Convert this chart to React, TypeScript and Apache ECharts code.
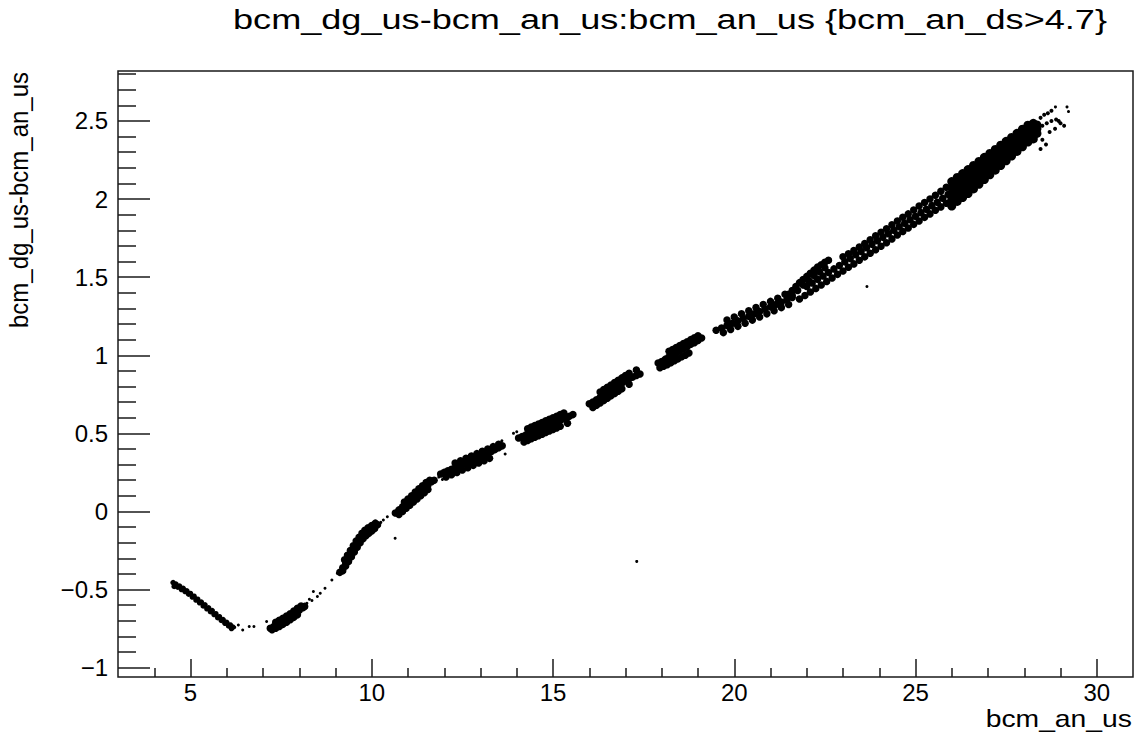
import React, { useEffect, useRef } from "react";
import * as echarts from "echarts";

const titleText = "bcm_dg_us-bcm_an_us:bcm_an_us {bcm_an_ds>4.7}";
const xName = "bcm_an_us";
const yName = "bcm_dg_us-bcm_an_us";

const xMajorTicks = [5, 10, 15, 20, 25, 30];
const xMinorTicks = [4, 6, 7, 8, 9, 11, 12, 13, 14, 16, 17, 18, 19, 21, 22, 23, 24, 26, 27, 28, 29];
const yMajorTicks = [-1, -0.5, 0, 0.5, 1, 1.5, 2, 2.5];
const yMinorTicks = [-0.9, -0.8, -0.7, -0.6, -0.4, -0.3, -0.2, -0.1, 0.1, 0.2, 0.3, 0.4, 0.6, 0.7, 0.8, 0.9, 1.1, 1.2, 1.3, 1.4, 1.6, 1.7, 1.8, 1.9, 2.1, 2.2, 2.3, 2.4, 2.6, 2.7, 2.8];

const clusterA = [
  [4.52, -0.455], [4.6, -0.465], [4.7, -0.478], [4.8, -0.492], [4.9, -0.508], [5.0, -0.525], [5.1, -0.543], [5.2, -0.562], [5.3, -0.58], [5.4, -0.598], [5.5, -0.617], [5.6, -0.635], [5.7, -0.655], [5.8, -0.674], [5.9, -0.692], [6.0, -0.71], [6.1, -0.727], [6.17, -0.74],
  [4.55, -0.48], [4.65, -0.485], [4.75, -0.5], [4.85, -0.513], [4.95, -0.53], [5.05, -0.548], [5.15, -0.567], [5.25, -0.585], [5.35, -0.605], [5.45, -0.623], [5.55, -0.642], [5.65, -0.66], [5.75, -0.68], [5.85, -0.698], [5.95, -0.716], [6.05, -0.733], [6.13, -0.75],
];
const clusterC = [
  [7.2, -0.748], [7.3, -0.737], [7.4, -0.725], [7.5, -0.712], [7.6, -0.698], [7.7, -0.683], [7.8, -0.667], [7.9, -0.65], [8.0, -0.633], [8.1, -0.617], [8.15, -0.608],
  [7.35, -0.71], [7.45, -0.697], [7.55, -0.684], [7.65, -0.67], [7.75, -0.655], [7.85, -0.638], [7.95, -0.62], [8.05, -0.605],
  [7.25, -0.758], [7.35, -0.748], [7.45, -0.736], [7.55, -0.723], [7.65, -0.709], [7.75, -0.694], [7.85, -0.678], [7.95, -0.662],
];
const clusterE = [
  [9.12, -0.39], [9.2, -0.36], [9.28, -0.33], [9.36, -0.3], [9.44, -0.27], [9.52, -0.24], [9.6, -0.21], [9.68, -0.18], [9.76, -0.155], [9.84, -0.135], [9.92, -0.12], [10.0, -0.105], [10.08, -0.095], [10.16, -0.085],
  [9.2, -0.38], [9.28, -0.35], [9.36, -0.32], [9.44, -0.29], [9.52, -0.26], [9.6, -0.23], [9.68, -0.2], [9.76, -0.175], [9.84, -0.155], [9.92, -0.14], [10.0, -0.125], [10.08, -0.11],
  [9.25, -0.31], [9.33, -0.28], [9.41, -0.25], [9.49, -0.22], [9.57, -0.19], [9.65, -0.165], [9.73, -0.14], [9.81, -0.12], [9.9, -0.105], [10.0, -0.09], [10.1, -0.075],
];
const clusterF = [
  [10.65, -0.01], [10.75, 0.01], [10.85, 0.03], [10.95, 0.05], [11.05, 0.07], [11.15, 0.09], [11.25, 0.11], [11.35, 0.13], [11.45, 0.15], [11.55, 0.17], [11.65, 0.19], [11.72, 0.2],
  [10.75, -0.02], [10.85, 0.0], [10.95, 0.02], [11.05, 0.04], [11.15, 0.06], [11.25, 0.08], [11.35, 0.1], [11.45, 0.12], [11.55, 0.14],
  [10.9, 0.06], [11.0, 0.08], [11.1, 0.1], [11.2, 0.125], [11.3, 0.145], [11.4, 0.165], [11.5, 0.185], [11.6, 0.2],
];
const clusterG = [
  [11.9, 0.24], [12.0, 0.25], [12.1, 0.26], [12.2, 0.27], [12.3, 0.28], [12.4, 0.29], [12.5, 0.3], [12.6, 0.31], [12.7, 0.32], [12.8, 0.33], [12.9, 0.34], [13.0, 0.35], [13.1, 0.36], [13.2, 0.372], [13.3, 0.384], [13.4, 0.396], [13.5, 0.408], [13.6, 0.42],
  [12.3, 0.31], [12.45, 0.325], [12.6, 0.34], [12.75, 0.355], [12.9, 0.37], [13.05, 0.385], [13.2, 0.4], [13.35, 0.415], [13.5, 0.43],
  [12.05, 0.22], [12.2, 0.235], [12.35, 0.25], [12.5, 0.265], [12.65, 0.28], [12.8, 0.295], [12.95, 0.31], [13.1, 0.325], [13.25, 0.34],
];
const clusterH = [
  [14.05, 0.47], [14.15, 0.48], [14.25, 0.49], [14.35, 0.5], [14.45, 0.51], [14.55, 0.52], [14.65, 0.53], [14.75, 0.54], [14.85, 0.55], [14.95, 0.56], [15.05, 0.57], [15.15, 0.58], [15.25, 0.59], [15.35, 0.6], [15.45, 0.61], [15.55, 0.62],
  [14.3, 0.53], [14.4, 0.54], [14.5, 0.55], [14.6, 0.56], [14.7, 0.57], [14.8, 0.58], [14.9, 0.59], [15.0, 0.6], [15.1, 0.61], [15.2, 0.62], [15.3, 0.63],
  [14.2, 0.445], [14.3, 0.455], [14.4, 0.465], [14.5, 0.475], [14.6, 0.485], [14.7, 0.495], [14.8, 0.505], [14.9, 0.515], [15.0, 0.525], [15.1, 0.535], [15.2, 0.545], [15.4, 0.565],
];
const clusterI = [
  [16.0, 0.69], [16.1, 0.7], [16.2, 0.715], [16.3, 0.73], [16.4, 0.745], [16.5, 0.76], [16.6, 0.775], [16.7, 0.79], [16.8, 0.805], [16.9, 0.82], [17.0, 0.835], [17.1, 0.85], [17.2, 0.86], [17.3, 0.87], [17.4, 0.88],
  [16.3, 0.765], [16.4, 0.78], [16.5, 0.795], [16.6, 0.81], [16.7, 0.825], [16.8, 0.84], [16.9, 0.855], [17.0, 0.87], [17.1, 0.885], [17.3, 0.905],
  [16.1, 0.665], [16.2, 0.68], [16.3, 0.695], [16.4, 0.71], [16.5, 0.725], [16.6, 0.74], [16.7, 0.755], [16.8, 0.77], [16.9, 0.785], [17.1, 0.815],
];
const clusterJ = [
  [17.9, 0.95], [18.0, 0.96], [18.1, 0.975], [18.2, 0.99], [18.3, 1.0], [18.4, 1.015], [18.5, 1.03], [18.6, 1.04], [18.7, 1.055], [18.8, 1.07], [18.9, 1.08], [19.0, 1.095], [19.1, 1.11],
  [18.2, 1.025], [18.3, 1.037], [18.4, 1.05], [18.5, 1.062], [18.6, 1.075], [18.7, 1.087], [18.8, 1.1], [18.9, 1.112], [19.0, 1.125],
  [17.95, 0.92], [18.05, 0.93], [18.15, 0.94], [18.25, 0.952], [18.35, 0.965], [18.45, 0.977], [18.55, 0.99], [18.65, 1.0], [18.75, 1.015],
];
const clusterK = [
  [19.5, 1.16], [19.65, 1.175], [19.8, 1.19], [19.95, 1.205], [20.1, 1.22], [20.25, 1.235], [20.4, 1.25], [20.55, 1.265], [20.7, 1.28], [20.85, 1.295], [21.0, 1.31], [21.15, 1.325], [21.3, 1.34], [21.45, 1.355], [21.6, 1.37],
  [19.8, 1.225], [20.0, 1.245], [20.2, 1.265], [20.4, 1.285], [20.6, 1.305], [20.8, 1.325], [21.0, 1.345], [21.2, 1.365], [21.4, 1.39],
  [19.7, 1.145], [19.9, 1.165], [20.1, 1.185], [20.3, 1.205], [20.5, 1.225], [20.7, 1.245], [20.9, 1.265], [21.1, 1.285], [21.3, 1.305], [21.5, 1.325],
];
const clusterL = [
  [21.5, 1.39], [21.6, 1.415], [21.7, 1.44], [21.8, 1.465], [21.9, 1.485], [22.0, 1.505], [22.1, 1.525], [22.2, 1.545], [22.3, 1.565], [22.4, 1.58], [22.5, 1.595], [22.6, 1.608],
  [21.6, 1.385], [21.75, 1.415], [21.9, 1.45], [22.05, 1.48], [22.2, 1.51], [22.35, 1.535], [22.5, 1.56],
];
const strandLow = [
  [21.8, 1.36], [21.95, 1.383], [22.1, 1.405], [22.25, 1.428], [22.4, 1.45], [22.55, 1.473], [22.7, 1.495], [22.85, 1.518], [23.0, 1.54], [23.15, 1.563], [23.3, 1.585], [23.45, 1.608], [23.6, 1.63], [23.75, 1.653], [23.9, 1.675], [24.05, 1.698], [24.2, 1.72], [24.35, 1.745], [24.5, 1.77], [24.65, 1.793], [24.8, 1.815], [24.95, 1.838], [25.1, 1.86], [25.25, 1.883], [25.4, 1.905], [25.55, 1.928], [25.7, 1.95], [25.85, 1.973],
];
const strandMid = [
  [22.0, 1.44], [22.15, 1.463], [22.3, 1.486], [22.45, 1.508], [22.6, 1.53], [22.75, 1.553], [22.9, 1.575], [23.05, 1.598], [23.2, 1.62], [23.35, 1.643], [23.5, 1.665], [23.65, 1.688], [23.8, 1.71], [23.95, 1.733], [24.1, 1.755], [24.25, 1.778], [24.4, 1.8], [24.55, 1.823], [24.7, 1.845], [24.85, 1.868], [25.0, 1.89], [25.15, 1.913], [25.3, 1.935], [25.45, 1.958], [25.6, 1.98], [25.75, 2.005], [25.9, 2.03],
];
const strandHigh = [
  [23.0, 1.63], [23.15, 1.65], [23.3, 1.67], [23.45, 1.693], [23.6, 1.715], [23.75, 1.74], [23.9, 1.765], [24.05, 1.788], [24.2, 1.81], [24.35, 1.835], [24.5, 1.86], [24.65, 1.883], [24.8, 1.905], [24.95, 1.93], [25.1, 1.955], [25.25, 1.978], [25.4, 2.0], [25.55, 2.025], [25.7, 2.05], [25.85, 2.075],
];
const blobN = [
  [26.0, 1.955], [26.0, 1.994], [26.0, 2.034], [26.0, 2.073], [26.0, 2.112],
  [26.15, 1.985], [26.15, 2.023], [26.15, 2.062], [26.15, 2.1], [26.15, 2.138],
  [26.3, 2.01], [26.3, 2.048], [26.3, 2.087], [26.3, 2.125], [26.3, 2.163],
  [26.45, 2.035], [26.45, 2.074], [26.45, 2.112], [26.45, 2.151], [26.45, 2.189],
  [26.6, 2.065], [26.6, 2.103], [26.6, 2.14], [26.6, 2.178], [26.6, 2.215],
  [26.75, 2.095], [26.75, 2.132], [26.75, 2.168], [26.75, 2.205], [26.75, 2.241],
  [26.9, 2.125], [26.9, 2.161], [26.9, 2.196], [26.9, 2.232], [26.9, 2.267],
  [27.05, 2.155], [27.05, 2.189], [27.05, 2.224], [27.05, 2.258], [27.05, 2.292],
  [27.2, 2.185], [27.2, 2.218], [27.2, 2.252], [27.2, 2.285], [27.2, 2.318],
  [27.35, 2.215], [27.35, 2.248], [27.35, 2.28], [27.35, 2.313], [27.35, 2.345],
  [27.5, 2.245], [27.5, 2.276], [27.5, 2.308], [27.5, 2.339], [27.5, 2.37],
  [27.65, 2.275], [27.65, 2.305], [27.65, 2.335], [27.65, 2.365], [27.65, 2.395],
  [27.8, 2.305], [27.8, 2.334], [27.8, 2.363], [27.8, 2.392], [27.8, 2.421],
  [27.95, 2.335], [27.95, 2.363], [27.95, 2.391], [27.95, 2.419], [27.95, 2.447],
  [28.1, 2.365], [28.1, 2.392], [28.1, 2.419], [28.1, 2.446], [28.1, 2.473],
  [28.25, 2.385], [28.25, 2.41], [28.25, 2.435], [28.25, 2.46], [28.25, 2.485],
  [28.35, 2.42], [28.35, 2.45], [28.35, 2.475],
];
const tipStreaks = [
  [28.45, 2.52], [28.55, 2.54], [28.65, 2.55], [28.75, 2.565], [28.5, 2.47], [28.62, 2.485], [28.75, 2.5], [28.88, 2.51], [29.0, 2.485], [29.1, 2.47],
  [28.5, 2.38], [28.6, 2.35], [28.45, 2.32], [28.7, 2.43], [28.85, 2.45], [28.95, 2.5],
];
const sparseDots = [
  [6.22, -0.742], [6.32, -0.727], [6.44, -0.759], [6.62, -0.737], [6.75, -0.737], [7.1, -0.705],
  [8.21, -0.588], [8.28, -0.562], [8.35, -0.57], [8.39, -0.513], [8.5, -0.545], [8.58, -0.524], [8.71, -0.492], [8.9, -0.439], [9.05, -0.396],
  [10.25, -0.07], [10.32, -0.055], [10.43, -0.034], [10.645, -0.172],
  [11.85, 0.22], [11.95, 0.205], [13.59, 0.453], [13.68, 0.368], [13.91, 0.5], [14.0, 0.51],
  [17.31, -0.32], [23.66, 1.44], [28.86, 2.59], [29.18, 2.59], [29.22, 2.56],
];

const lineColor = "#1a1a1a";
const fontFamily = '"Liberation Sans", Arial, sans-serif';

export default function App() {
  const ref = useRef<HTMLDivElement>(null);
  useEffect(() => {
    if (!ref.current) return;
    const chart = echarts.init(ref.current, undefined, { renderer: "svg" });
    const bands = [
      ...clusterC, ...clusterE, ...clusterF, ...clusterG, ...clusterH, ...clusterI,
      ...clusterJ, ...clusterK, ...clusterL, ...strandLow, ...strandMid, ...strandHigh,
    ];
    const tickStyle = { color: lineColor, width: 1.5 };
    const dot = { color: "#000", opacity: 1, borderWidth: 0 };
    chart.setOption({
      animation: false,
      backgroundColor: "#ffffff",
      grid: {
        left: 118, right: 1, top: 71, bottom: 55,
        show: true, borderColor: lineColor, borderWidth: 1.5,
        outerBoundsMode: "none", containLabel: false,
      },
      xAxis: [
        {
          type: "value", min: 3, max: 31, position: "bottom",
          axisLine: { show: false, onZero: false }, splitLine: { show: false },
          axisTick: { show: true, inside: true, length: 18, customValues: xMajorTicks, lineStyle: tickStyle },
          axisLabel: { show: true, customValues: xMajorTicks, margin: 3, fontSize: 24, fontFamily, color: "#000" },
        },
        {
          type: "value", min: 3, max: 31, position: "bottom",
          axisLine: { show: false, onZero: false }, splitLine: { show: false }, axisLabel: { show: false },
          axisTick: { show: true, inside: true, length: 9, customValues: xMinorTicks, lineStyle: tickStyle },
        },
      ],
      yAxis: [
        {
          type: "value", min: -1.06, max: 2.82, position: "left",
          axisLine: { show: false, onZero: false }, splitLine: { show: false },
          axisTick: { show: true, inside: true, length: 32, customValues: yMajorTicks, lineStyle: tickStyle },
          axisLabel: {
            show: true, customValues: yMajorTicks, margin: 10, fontSize: 24, fontFamily, color: "#000",
            formatter: (v: number) => String(v).replace("-", "\u2212"),
          },
        },
        {
          type: "value", min: -1.06, max: 2.82, position: "left",
          axisLine: { show: false, onZero: false }, splitLine: { show: false }, axisLabel: { show: false },
          axisTick: { show: true, inside: true, length: 18, customValues: yMinorTicks, lineStyle: tickStyle },
        },
      ],
      graphic: [
        {
          type: "text", x: 233, y: 19.5, scaleX: 1.29, silent: true,
          style: { text: titleText, font: `28px ${fontFamily}`, fill: "#000", textAlign: "left", verticalAlign: "middle", textVerticalAlign: "middle" },
        },
        {
          type: "text", x: 1132, y: 719, scaleX: 1.18, silent: true,
          style: { text: xName, font: `24px ${fontFamily}`, fill: "#000", textAlign: "right", verticalAlign: "middle", textVerticalAlign: "middle" },
        },
        {
          type: "text", x: 18.5, y: 328, rotation: Math.PI / 2, scaleY: 1.1, silent: true,
          style: { text: yName, font: `24px ${fontFamily}`, fill: "#000", textAlign: "left", verticalAlign: "middle", textVerticalAlign: "middle" },
        },
      ],
      series: [
        {
          type: "scatter", data: clusterA, symbol: "circle", symbolSize: 5.5,
          itemStyle: dot, silent: true, xAxisIndex: 0, yAxisIndex: 0,
        },
        {
          type: "scatter", data: bands, symbol: "circle", symbolSize: 7.5,
          itemStyle: dot, silent: true, xAxisIndex: 0, yAxisIndex: 0,
        },
        {
          type: "scatter", data: blobN, symbol: "circle", symbolSize: 9,
          itemStyle: dot, silent: true, xAxisIndex: 0, yAxisIndex: 0,
        },
        {
          type: "scatter", data: tipStreaks, symbol: "circle", symbolSize: 4,
          itemStyle: dot, silent: true, xAxisIndex: 0, yAxisIndex: 0,
        },
        {
          type: "scatter", data: sparseDots, symbol: "circle", symbolSize: 3,
          itemStyle: dot, silent: true, xAxisIndex: 0, yAxisIndex: 0,
        },
      ],
    });
    return () => chart.dispose();
  }, []);
  return (
    <div
      ref={ref}
      style={{ position: "fixed", left: 0, top: 0, width: 1134, height: 732, background: "#fff" }}
    />
  );
}
